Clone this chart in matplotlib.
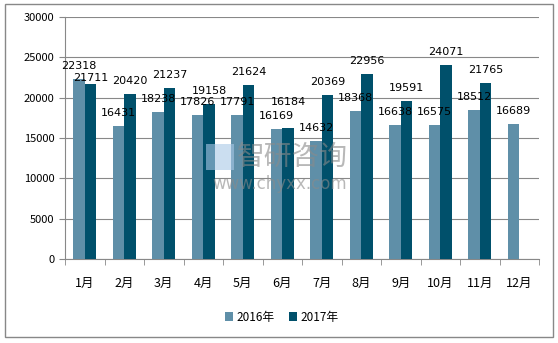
import matplotlib.pyplot as plt
import numpy as np
from matplotlib.patches import Rectangle

plt.rcParams['font.family'] = ['Noto Sans CJK SC', 'DejaVu Sans']

months = ['1月', '2月', '3月', '4月', '5月', '6月', '7月', '8月', '9月', '10月', '11月', '12月']
v2016 = [22318, 16431, 18238, 17826, 17791, 16169, 14632, 18368, 16638, 16575, 18512, 16689]
v2017 = [21711, 20420, 21237, 19158, 21624, 16184, 20369, 22956, 19591, 24071, 21765, np.nan]

c16 = '#5f8fa8'
c17 = '#00506b'

fig = plt.figure(figsize=(5.58, 3.43), dpi=100)
fig.patches.append(Rectangle((5/558, 6/343), 548/558, 333/343, transform=fig.transFigure,
                             fill=False, edgecolor='#888888', linewidth=1))
ax = fig.add_axes([65/558, 1 - 259/343, 474/558, 242/343])

x = np.arange(len(months))
w = 0.29
b1 = ax.bar(x - w/2, v2016, w, color=c16, label='2016年', zorder=3)
b2 = ax.bar(x + w/2, v2017, w, color=c17, label='2017年', zorder=3)

# label offsets in points above bar top (a couple nudged to avoid collisions, as in the original)
off17 = {0: 4.3, 5: 19.4}
for xi, v in zip(x, v2016):
    ax.annotate(str(v), (xi - w/2, v), xytext=(0, 9.4), textcoords='offset points',
                ha='center', va='center', fontsize=8, family='DejaVu Sans', zorder=5)
for xi, v in zip(x, v2017):
    if not np.isnan(v):
        ax.annotate(str(int(v)), (xi + w/2, v), xytext=(0, off17.get(xi, 9.4)),
                    textcoords='offset points', ha='center', va='center', fontsize=8,
                    family='DejaVu Sans', zorder=5)

ax.set_xlim(-0.5, 11.5)
ax.set_ylim(0, 30000)
ax.set_yticks(range(0, 30001, 5000))
ax.yaxis.grid(True, color='#888888', linewidth=0.8, zorder=0)
ax.set_xticks(x)
ax.set_xticklabels(months, fontsize=9)
ax.set_xticks(np.arange(-0.5, 12, 1), minor=True)
ax.tick_params(axis='x', which='major', length=0, pad=13)
ax.tick_params(axis='x', which='minor', length=4, color='#888888')
ax.tick_params(axis='y', length=4, color='#888888', labelsize=8)
for s in ['top', 'right']:
    ax.spines[s].set_visible(False)
ax.spines['left'].set_color('#888888')
ax.spines['bottom'].set_color('#888888')

# watermark
fig.patches.append(Rectangle((206/558, 1 - 170/343), 28/558, 26/343, transform=fig.transFigure,
                             facecolor='#a9c8e6', alpha=0.6, edgecolor='none', zorder=4))
fig.text(292/558, 1 - 157/343, '智研咨询', fontsize=20, color='#8a8a8a', alpha=0.6,
         ha='center', va='center', zorder=6)
fig.text(280/558, 1 - 184/343, 'www.chyxx.com', fontsize=12, color='#8a8a8a', alpha=0.6,
         ha='center', va='center', family='DejaVu Sans', zorder=6)

fig.legend(handles=[b1, b2], loc='center', bbox_to_anchor=(0.505, 1 - 317/343), ncol=2,
           frameon=False, fontsize=8.5, handlelength=0.7, handleheight=0.7, columnspacing=1.2,
           handletextpad=0.3)

fig.savefig('out.png', dpi=100)
